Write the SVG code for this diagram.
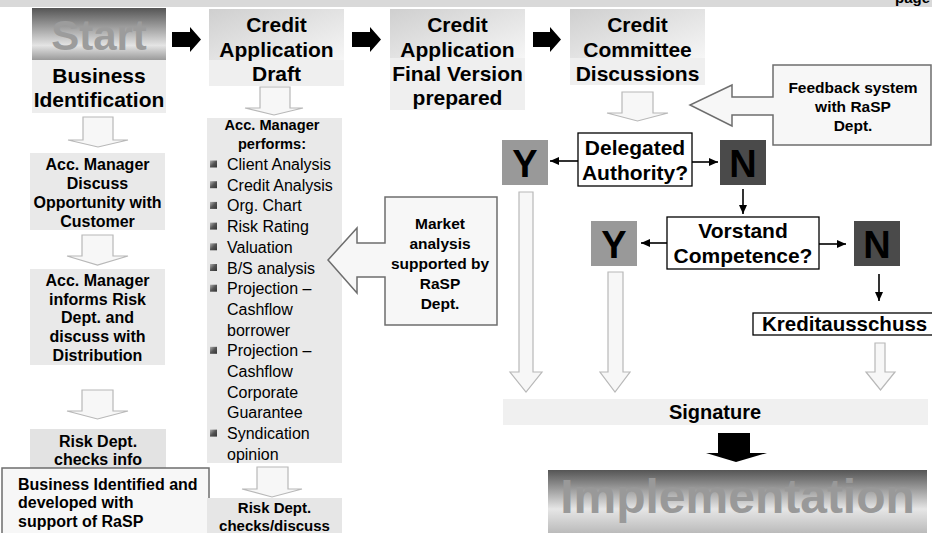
<svg xmlns="http://www.w3.org/2000/svg" width="932" height="533" viewBox="0 0 932 533">
<defs>
<linearGradient id="gStart" x1="0" y1="0" x2="0" y2="1">
<stop offset="0" stop-color="#555"/><stop offset="0.72" stop-color="#e4e4e4"/><stop offset="1" stop-color="#9a9a9a"/>
</linearGradient>
<linearGradient id="gImpl" x1="0" y1="0" x2="0" y2="1">
<stop offset="0" stop-color="#555"/><stop offset="0.5" stop-color="#e6e6e6"/><stop offset="1" stop-color="#a0a0a0"/>
</linearGradient>
<linearGradient id="gHead" x1="0" y1="0" x2="1" y2="1">
<stop offset="0" stop-color="#cfcfcf"/><stop offset="1" stop-color="#f6f6f6"/>
</linearGradient>
<linearGradient id="gBul" x1="0" y1="0" x2="1" y2="1">
<stop offset="0" stop-color="#b0b0b0"/><stop offset="0.5" stop-color="#555"/><stop offset="1" stop-color="#333"/>
</linearGradient>
<marker id="ah" markerUnits="userSpaceOnUse" markerWidth="10" markerHeight="8" refX="9" refY="4" orient="auto">
<path d="M0,0 L9,4 L0,8 Z" fill="#000"/>
</marker>
</defs>
<style>
text { font-family: "Liberation Sans", Arial, sans-serif; font-weight: bold; fill: #000; text-anchor: middle; }
.b16 { font-size: 16px; }
.b15 { font-size: 15px; }
.b21 { font-size: 21px; }
.li { font-size: 16px; font-weight: normal; text-anchor: start; }
.yn { font-size: 38px; }
.box { fill: #e9e9e9; }
.hd { fill: url(#gHead); }
.hdl { fill: #efefef; }
.hollow { fill: #f7f7f7; stroke: #b8b8b8; stroke-width: 1.2; }
.blk { fill: #000; }
.callout { fill: #f7f7f7; stroke: #6e6e6e; stroke-width: 1.5; }
.q { fill: #fff; stroke: #000; stroke-width: 1.3; }
.ln { stroke: #000; stroke-width: 1.6; fill: none; marker-end: url(#ah); }
.bul { fill: url(#gBul); }
</style>

<rect x="0" y="0" width="932" height="7" fill="#d9d9d9"/>
<text x="895" y="3" style="font-size:15px;text-anchor:start">page</text>

<g id="start">
<rect x="32" y="8" width="134" height="52" fill="url(#gStart)"/>
<text x="99" y="50" style="font-size:42px;fill:#9c9c9c">Start</text>
</g>
<g id="business-identification">
<rect x="32" y="60" width="134" height="53" fill="#ededed"/>
<text class="b21" x="99" y="83">Business</text>
<text class="b21" x="99" y="107">Identification</text>
</g>

<g id="credit-application-draft">
<rect x="209" y="9" width="135" height="51" class="hd"/>
<rect x="209" y="60" width="135" height="26" class="hdl"/>
<text class="b21" x="276.5" y="32">Credit</text>
<text class="b21" x="276.5" y="57">Application</text>
<text class="b21" x="276.5" y="81">Draft</text>
</g>

<g id="credit-application-final">
<rect x="390" y="9" width="135" height="49" class="hd"/>
<rect x="390" y="58" width="135" height="52" class="hdl"/>
<text class="b21" x="457.5" y="32">Credit</text>
<text class="b21" x="457.5" y="56.5">Application</text>
<text class="b21" x="457.5" y="81">Final Version</text>
<text class="b21" x="457.5" y="105">prepared</text>
</g>

<g id="credit-committee">
<rect x="570" y="9" width="135" height="49" class="hd"/>
<rect x="570" y="58" width="135" height="27" class="hdl"/>
<text class="b21" x="637.5" y="32">Credit</text>
<text class="b21" x="637.5" y="57">Committee</text>
<text class="b21" x="637.5" y="81">Discussions</text>
</g>

<g id="acc-manager-discuss">
<rect x="30" y="153" width="135" height="77" class="box"/>
<text class="b16" x="97.5" y="170">Acc. Manager</text>
<text class="b16" x="97.5" y="189">Discuss</text>
<text class="b16" x="97.5" y="208">Opportunity with</text>
<text class="b16" x="97.5" y="227">Customer</text>
</g>

<g id="acc-manager-informs">
<rect x="30" y="269" width="135" height="96" class="box"/>
<text class="b16" x="97.5" y="286">Acc. Manager</text>
<text class="b16" x="97.5" y="304.7">informs Risk</text>
<text class="b16" x="97.5" y="323.4">Dept. and</text>
<text class="b16" x="97.5" y="342">discuss with</text>
<text class="b16" x="97.5" y="360.7">Distribution</text>
</g>

<g id="risk-checks-info">
<rect x="30" y="429" width="136" height="42" fill="#e3e3e3"/>
<text class="b16" x="98" y="447">Risk Dept.</text>
<text class="b16" x="98" y="465">checks info</text>
</g>

<g id="business-identified-note">
<rect x="2" y="468" width="207" height="80" class="callout" fill="#f8f8f8"/>
<text class="b16" x="18" y="490" style="text-anchor:start">Business Identified and</text>
<text class="b16" x="18" y="508" style="text-anchor:start">developed with</text>
<text class="b16" x="18" y="527" style="text-anchor:start">support of RaSP</text>
</g>

<g id="acc-manager-performs">
<rect x="207" y="118" width="135" height="345" class="box"/>
<text x="272" y="130" style="font-size:14.6px">Acc. Manager</text>
<text x="272" y="149" style="font-size:14.6px">performs:</text>
<rect class="bul" x="210" y="160.5" width="7" height="7"/>
<rect class="bul" x="210" y="181.2" width="7" height="7"/>
<rect class="bul" x="210" y="201.9" width="7" height="7"/>
<rect class="bul" x="210" y="222.6" width="7" height="7"/>
<rect class="bul" x="210" y="243.3" width="7" height="7"/>
<rect class="bul" x="210" y="264" width="7" height="7"/>
<rect class="bul" x="210" y="284.7" width="7" height="7"/>
<rect class="bul" x="210" y="346.8" width="7" height="7"/>
<rect class="bul" x="210" y="429.6" width="7" height="7"/>
<text class="li" x="227" y="170">Client Analysis</text>
<text class="li" x="227" y="190.7">Credit Analysis</text>
<text class="li" x="227" y="211.4">Org. Chart</text>
<text class="li" x="227" y="232.1">Risk Rating</text>
<text class="li" x="227" y="252.8">Valuation</text>
<text class="li" x="227" y="273.5">B/S analysis</text>
<text class="li" x="227" y="294.2">Projection –</text>
<text class="li" x="227" y="314.9">Cashflow</text>
<text class="li" x="227" y="335.6">borrower</text>
<text class="li" x="227" y="356.3">Projection –</text>
<text class="li" x="227" y="377">Cashflow</text>
<text class="li" x="227" y="397.7">Corporate</text>
<text class="li" x="227" y="418.4">Guarantee</text>
<text class="li" x="227" y="439.1">Syndication</text>
<text class="li" x="227" y="459.8">opinion</text>
</g>

<g id="risk-checks-discuss">
<rect x="207" y="498" width="135" height="50" fill="#e6e6e6"/>
<text class="b15" x="274.5" y="513">Risk Dept.</text>
<text class="b15" x="274.5" y="531">checks/discuss</text>
</g>

<g id="market-analysis">
<path class="callout" d="M385,197 H497 V325 H385 V277 H357 V293 L328,260 L357,228 V243 H385 Z"/>
<text x="440" y="228.5" style="font-size:15.5px">Market</text>
<text x="440" y="248.5" style="font-size:15.5px">analysis</text>
<text x="440" y="268.5" style="font-size:15.5px">supported by</text>
<text x="440" y="288.5" style="font-size:15.5px">RaSP</text>
<text x="440" y="308.5" style="font-size:15.5px">Dept.</text>
</g>

<g id="feedback-system">
<path class="callout" d="M773,65 H931 V145 H773 V115 H732 V126 L690,105 L732,85 V97 H773 Z"/>
<text x="853" y="93" style="font-size:15.5px">Feedback system</text>
<text x="853" y="112" style="font-size:15.5px">with RaSP</text>
<text x="853" y="131" style="font-size:15.5px">Dept.</text>
</g>

<g id="delegated-authority">
<rect class="q" x="578" y="133" width="114" height="53"/>
<text class="b21" x="635" y="155">Delegated</text>
<text class="b21" x="635" y="180">Authority?</text>
</g>
<g id="y1">
<rect x="502" y="140" width="46" height="45" fill="#999"/>
<text class="yn" x="525" y="177">Y</text>
</g>
<g id="n1">
<rect x="720" y="140" width="46" height="45" fill="#4a4a4a"/>
<text class="yn" x="743" y="177">N</text>
</g>

<g id="vorstand-competence">
<rect class="q" x="667" y="217" width="152" height="52"/>
<text class="b21" x="743" y="238">Vorstand</text>
<text class="b21" x="743" y="263">Competence?</text>
</g>
<g id="y2">
<rect x="591" y="221" width="46" height="45" fill="#999"/>
<text class="yn" x="614" y="258">Y</text>
</g>
<g id="n2">
<rect x="854" y="221" width="46" height="45" fill="#4a4a4a"/>
<text class="yn" x="877" y="258">N</text>
</g>

<g id="kreditausschuss">
<rect class="q" x="753" y="313" width="190" height="22"/>
<text x="762" y="331" style="font-size:20.5px;text-anchor:start">Kreditausschuss</text>
</g>

<g id="signature">
<rect x="503" y="399" width="425" height="26" fill="#f0f0f0"/>
<text x="715" y="419" style="font-size:20px">Signature</text>
</g>

<g id="implementation">
<rect x="548" y="470" width="379" height="78" fill="url(#gImpl)"/>
<text x="737.5" y="513" style="font-size:48px;fill:#999">Implementation</text>
</g>

<g id="connectors">
<path class="blk" d="M172,32 H190 V27 L201,39.5 L190,52 V47 H172 Z"/>
<path class="blk" d="M352,32 H370 V27 L381,39.5 L370,52 V47 H352 Z"/>
<path class="blk" d="M533,32 H550 V27 L561,39.5 L550,52 V47 H533 Z"/>

<path class="hollow" d="M83,117 H113 V140 H128 L98,147 L68,140 H83 Z"/>
<path class="hollow" d="M82,235 H113 V256 H128 L97.5,265 L67,256 H82 Z"/>
<path class="hollow" d="M82,390 H113 V411 H128 L97.5,419 L67,411 H82 Z"/>
<path class="hollow" d="M260,87 H290 V108 H303 L274,115 L245,108 H260 Z"/>
<path class="hollow" d="M257,467 H288 V489 H302 L272,497 L242,489 H257 Z"/>
<path class="hollow" d="M622,92 H653 V113 H668 L637.5,121 L607,113 H622 Z"/>
<path class="hollow" d="M519,192 H533 V372 H542 L526,392 L510,372 H519 Z"/>
<path class="hollow" d="M608,272 H623 V372 H630 L615,392 L600,372 H608 Z"/>
<path class="hollow" d="M875,343 H885 V372 H895 L880.5,390 L866,372 H875 Z"/>

<path class="ln" d="M578,161 H550"/>
<path class="ln" d="M692,162 H718"/>
<path class="ln" d="M743,189 V214"/>
<path class="ln" d="M667,243 H641"/>
<path class="ln" d="M819,244 H846"/>
<path class="ln" d="M879,274 V301"/>

<path class="blk" d="M718,433 H750 V453 H767 L736,462 L706,453 H718 Z"/>
</g>
</svg>
